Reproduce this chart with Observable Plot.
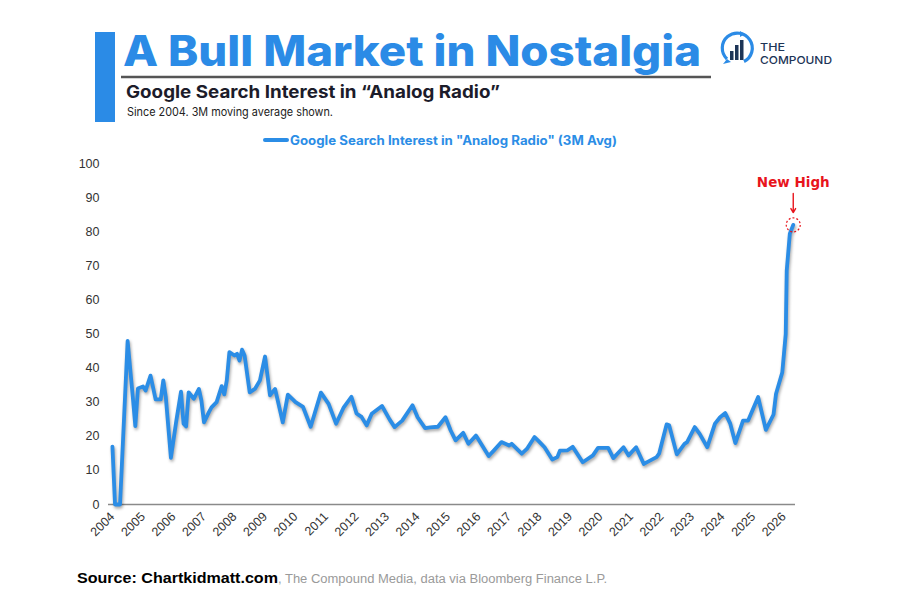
<!DOCTYPE html>
<html>
<head>
<meta charset="utf-8">
<script src="https://cdn.jsdelivr.net/npm/d3@7"></script>
<script src="https://cdn.jsdelivr.net/npm/@observablehq/plot@0.6"></script>
<style>
  html, body { margin: 0; padding: 0; background: #fff; }
  #wrap { position: relative; width: 900px; height: 600px; background: #fff; overflow: hidden; }
  #head { position: absolute; left: 0; top: 0; }
  #chart { position: absolute; left: 0; top: 150px; }
  #foot { position: absolute; left: 0; top: 555px; }
  #chart g[aria-label="line"] path { filter: drop-shadow(1px 2px 1.5px rgba(0,0,0,0.35)); }
</style>
</head>
<body>
<div id="wrap">
  <svg id="head" width="900" height="150" font-family="Inter, Roboto, 'Liberation Sans', sans-serif">
    <rect x="95" y="32" width="20" height="90" fill="#2b8be6"></rect>
    <text x="123" y="66" font-size="42" font-weight="800" fill="#2b8be6" textLength="578" lengthAdjust="spacingAndGlyphs">A Bull Market in Nostalgia</text>
    <line x1="121" x2="711" y1="77" y2="77" stroke="#555" stroke-width="2.5"></line>
    <text x="126" y="98" font-size="17.5" font-weight="700" fill="#1c1c2a" textLength="374" lengthAdjust="spacingAndGlyphs">Google Search Interest in “Analog Radio”</text>
    <text x="127" y="116" font-size="11.5" fill="#222" textLength="206" lengthAdjust="spacingAndGlyphs">Since 2004. 3M moving average shown.</text>
    <!-- logo -->
    <g>
      <path d="M 727 59 A 15 15 0 1 1 744 61.5" fill="none" stroke="#2b8be6" stroke-width="3.2"></path>
      <path d="M 727 59 L 723 64 L 731 62 Z" fill="#2b8be6"></path>
      <path d="M 740 31 L 745 34 L 740 37 Z" fill="#2b8be6"></path>
      <rect x="730" y="51" width="3.5" height="9" fill="#1d3557"></rect>
      <rect x="735" y="45" width="3.5" height="15" fill="#1d3557"></rect>
      <rect x="740" y="40" width="3.5" height="20" fill="#1d3557"></rect>
    </g>
    <text x="760" y="50.5" font-size="11" font-weight="500" fill="#1d3557" textLength="25" lengthAdjust="spacingAndGlyphs">THE</text>
    <text x="760" y="63.5" font-size="11" font-weight="500" fill="#1d3557" textLength="72" lengthAdjust="spacingAndGlyphs">COMPOUND</text>
    <!-- legend -->
    <line x1="265" x2="287" y1="140" y2="140" stroke="#2b8de6" stroke-width="4" stroke-linecap="round"></line>
    <text x="290" y="144.5" font-size="12.5" font-weight="700" fill="#2b8de6" textLength="327" lengthAdjust="spacingAndGlyphs">Google Search Interest in "Analog Radio" (3M Avg)</text>
  </svg>
  <div id="chart"></div>
  <svg id="foot" width="900" height="45" font-family="'Liberation Sans', Arial, sans-serif">
    <text x="77" y="28" font-size="14.5" font-weight="900" fill="#000" textLength="201" lengthAdjust="spacingAndGlyphs">Source: Chartkidmatt.com</text>
    <text x="278" y="28" font-size="12" fill="#9a9a9a" textLength="329" lengthAdjust="spacingAndGlyphs">, The Compound Media, data via Bloomberg Finance L.P.</text>
  </svg>
</div>
<script>
// ---- data (3M average of Google search interest) ----
const dates = [
  "2004-01","2004-02","2004-04","2004-07","2004-09","2004-10","2004-11",
  "2005-01","2005-02","2005-04","2005-06","2005-08","2005-09","2005-10","2005-12",
  "2006-02","2006-04","2006-05","2006-06","2006-07","2006-09","2006-11","2006-12",
  "2007-01","2007-03","2007-04","2007-06","2007-08","2007-09","2007-10","2007-11",
  "2008-01","2008-02","2008-03","2008-04","2008-05","2008-07","2008-09","2008-11",
  "2009-01","2009-03","2009-05","2009-08","2009-10",
  "2010-01","2010-04","2010-07","2010-11",
  "2011-02","2011-05","2011-08","2011-11",
  "2012-01","2012-03","2012-05","2012-07","2012-11",
  "2013-02","2013-04","2013-07","2013-11",
  "2014-01","2014-04","2014-06","2014-09","2014-12",
  "2015-02","2015-04","2015-07","2015-09","2015-12",
  "2016-05","2016-07","2016-10",
  "2017-01","2017-02","2017-06","2017-08","2017-11",
  "2018-01","2018-03","2018-06","2018-08","2018-09","2018-12",
  "2019-02","2019-06","2019-10","2019-12",
  "2020-02","2020-04","2020-06","2020-10","2020-12",
  "2021-03","2021-06","2021-11","2021-12",
  "2022-03","2022-04","2022-07","2022-10","2022-11",
  "2023-02","2023-04","2023-07","2023-10","2023-12",
  "2024-02","2024-04","2024-06","2024-09","2024-11",
  "2025-03","2025-06","2025-09","2025-10","2025-12-15",
  "2026-01-25","2026-02-06","2026-03-15","2026-04-25"
];
const values = [
  17,0,0,48,31.5,23,34,
  34.6,33.4,37.8,30.8,30.8,36.4,31.5,13.7,
  24.1,33.1,23.7,22.9,32.9,31,33.9,30.5,
  24.1,27.1,28.5,30,34.7,32.3,36.4,44.7,
  43.7,44.2,42.2,45.4,43.7,32.9,33.9,36.4,
  43.4,32,33.9,24.1,32.2,
  30,28.6,22.8,32.8,
  29.5,23.7,28.5,31.6,
  26.7,25.7,23.2,26.6,28.9,
  24.9,22.7,24.6,29.1,
  25.6,22.4,22.6,22.8,25.6,
  21.7,18.8,21,17.8,20.2,
  14.2,15.8,18.3,
  17.3,17.8,14.9,16.3,19.8,
  18.3,16.8,13.2,13.9,15.8,15.9,
  16.9,12.4,14.4,16.6,
  16.6,16.6,13.6,16.8,14.4,
  16.8,11.9,13.9,14.9,
  23.5,23.2,14.7,17.8,18.3,
  22.7,20.7,16.8,23.7,25.6,
  26.8,23.7,18,24.6,24.6,
  31.5,21.9,26.4,32.5,38.8,
  50,68.6,79.4,82
];
const yTicks = [0,10,20,30,40,50,60,70,80,90,100];
const years = ["2004","2005","2006","2007","2008","2009","2010","2011","2012","2013","2014","2015",
               "2016","2017","2018","2019","2020","2021","2022","2023","2024","2025","2026"];
const annotation = "New High";

const data = dates.map((d, i) => ({date: new Date(d), v: values[i]}));
const last = data[data.length - 1];
const red = "#e8141c";
const blue = "#2b8de6";

const chart = Plot.plot({
  width: 900,
  height: 405,
  marginTop: 13,
  marginBottom: 51,
  marginLeft: 108,
  marginRight: 105,
  style: {fontFamily: "'Liberation Sans', Arial, sans-serif", fontSize: "12px", color: "#333", background: "transparent", overflow: "visible"},
  x: {type: "utc", domain: [new Date("2003-11-15"), new Date("2026-05-22")]},
  y: {domain: [0, 100]},
  marks: [
    Plot.axisY({ticks: yTicks, tickSize: 0, tickPadding: 9, label: null, fontSize: 12.5}),
    Plot.axisX({ticks: years.map(y => new Date(y)), tickFormat: d3.utcFormat("%Y"), tickRotate: -45, tickSize: 0, tickPadding: 10, label: null, fontSize: 12.5}),
    Plot.ruleY([0], {stroke: "#8a8a8a", strokeWidth: 1.3}),
    Plot.line(data, {x: "date", y: "v", stroke: blue, strokeWidth: 3.8, strokeLinejoin: "round"}),
    Plot.dot([last], {x: "date", y: "v", r: 7, stroke: red, fill: "none", strokeWidth: 1.2, strokeDasharray: "2,2"}),
    Plot.arrow([last], {x1: "date", x2: "date", y1: d => d.v + 9.2, y2: d => d.v + 3.6, stroke: red, strokeWidth: 1.4, headLength: 5}),
    Plot.text([last], {x: "date", y: "v", text: () => annotation, dy: -42, fill: red, fontWeight: "bold", fontSize: 13.5, fontFamily: "'DejaVu Sans', sans-serif"})
  ]
});
document.getElementById("chart").appendChild(chart);
</script>
</body>
</html>
